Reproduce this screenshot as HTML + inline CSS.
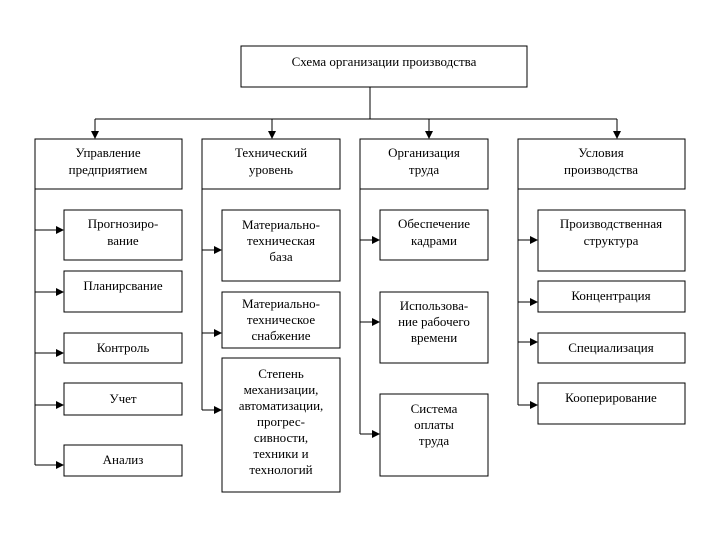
<!DOCTYPE html>
<html><head><meta charset="utf-8"><style>
html,body{margin:0;padding:0;background:#fff}
svg{display:block}
text{font-family:"Liberation Serif",serif;font-size:13px;fill:#000;text-anchor:middle}
</style></head><body>
<svg width="720" height="540" viewBox="0 0 720 540" xmlns="http://www.w3.org/2000/svg">
<defs><marker id="a" markerWidth="8" markerHeight="8" refX="7" refY="4" orient="auto" markerUnits="userSpaceOnUse"><path d="M0,0 L8,4 L0,8 z" fill="#000"/></marker></defs>
<g fill="none" stroke="#000" stroke-width="1">
<rect x="241" y="46" width="286" height="41"/>
<path d="M370 87 V119 M95 119 H617"/>
<g marker-end="url(#a)">
<line x1="95" y1="119" x2="95" y2="138"/>
<line x1="272" y1="119" x2="272" y2="138"/>
<line x1="429" y1="119" x2="429" y2="138"/>
<line x1="617" y1="119" x2="617" y2="138"/>
<line x1="35" y1="230" x2="63" y2="230"/>
<line x1="35" y1="292" x2="63" y2="292"/>
<line x1="35" y1="353" x2="63" y2="353"/>
<line x1="35" y1="405" x2="63" y2="405"/>
<line x1="35" y1="465" x2="63" y2="465"/>
<line x1="202" y1="250" x2="221" y2="250"/>
<line x1="202" y1="333" x2="221" y2="333"/>
<line x1="202" y1="410" x2="221" y2="410"/>
<line x1="360" y1="240" x2="379" y2="240"/>
<line x1="360" y1="322" x2="379" y2="322"/>
<line x1="360" y1="434" x2="379" y2="434"/>
<line x1="518" y1="240" x2="537" y2="240"/>
<line x1="518" y1="302" x2="537" y2="302"/>
<line x1="518" y1="342" x2="537" y2="342"/>
<line x1="518" y1="405" x2="537" y2="405"/>
</g>
<rect x="35" y="139" width="147" height="50"/>
<rect x="202" y="139" width="138" height="50"/>
<rect x="360" y="139" width="128" height="50"/>
<rect x="518" y="139" width="167" height="50"/>
<path d="M35 189 V465 M202 189 V410 M360 189 V434 M518 189 V405"/>
<rect x="64" y="210" width="118" height="50"/>
<rect x="64" y="271" width="118" height="41"/>
<rect x="64" y="333" width="118" height="30"/>
<rect x="64" y="383" width="118" height="32"/>
<rect x="64" y="445" width="118" height="31"/>
<rect x="222" y="210" width="118" height="71"/>
<rect x="222" y="292" width="118" height="56"/>
<rect x="222" y="358" width="118" height="134"/>
<rect x="380" y="210" width="108" height="50"/>
<rect x="380" y="292" width="108" height="71"/>
<rect x="380" y="394" width="108" height="82"/>
<rect x="538" y="210" width="147" height="61"/>
<rect x="538" y="281" width="147" height="31"/>
<rect x="538" y="333" width="147" height="30"/>
<rect x="538" y="383" width="147" height="41"/>
</g>
<text x="384" y="66">Схема организации производства</text>
<text x="108" y="157">Управление</text><text x="108" y="174">предприятием</text>
<text x="271" y="157">Технический</text><text x="271" y="174">уровень</text>
<text x="424" y="157">Организация</text><text x="424" y="174">труда</text>
<text x="601" y="157">Условия</text><text x="601" y="174">производства</text>
<text x="123" y="228">Прогнозиро-</text><text x="123" y="245">вание</text>
<text x="123" y="290">Планирсвание</text>
<text x="123" y="352">Контроль</text>
<text x="123" y="403">Учет</text>
<text x="123" y="464">Анализ</text>
<text x="281" y="229">Материально-</text><text x="281" y="245">техническая</text><text x="281" y="261">база</text>
<text x="281" y="308">Материально-</text><text x="281" y="324">техническое</text><text x="281" y="340">снабжение</text>
<text x="281" y="378">Степень</text><text x="281" y="394">механизации,</text><text x="281" y="410">автоматизации,</text><text x="281" y="426">прогрес-</text><text x="281" y="442">сивности,</text><text x="281" y="458">техники и</text><text x="281" y="474">технологий</text>
<text x="434" y="228">Обеспечение</text><text x="434" y="245">кадрами</text>
<text x="434" y="310">Использова-</text><text x="434" y="326">ние рабочего</text><text x="434" y="342">времени</text>
<text x="434" y="413">Система</text><text x="434" y="429">оплаты</text><text x="434" y="445">труда</text>
<text x="611" y="228">Производственная</text><text x="611" y="245">структура</text>
<text x="611" y="300">Концентрация</text>
<text x="611" y="352">Специализация</text>
<text x="611" y="402">Кооперирование</text>
</svg>
</body></html>
